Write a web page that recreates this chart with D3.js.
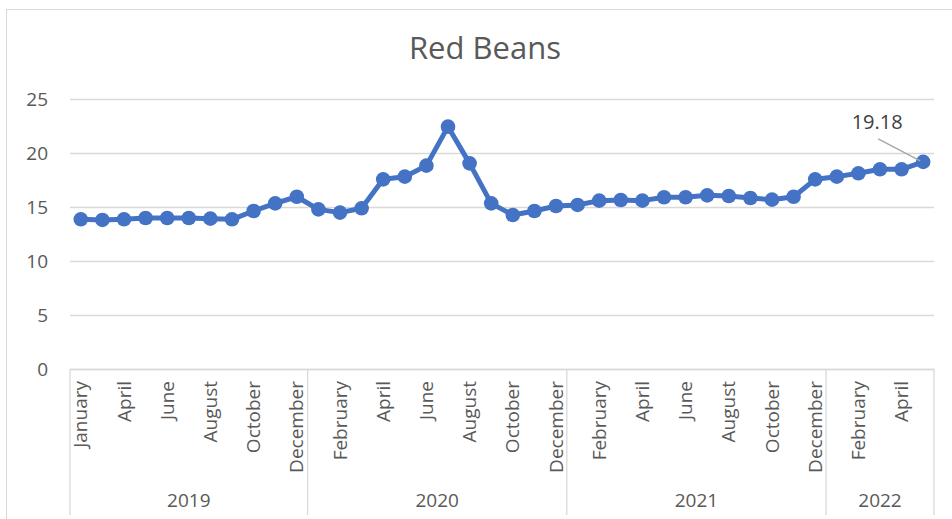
<!DOCTYPE html>
<html>
<head>
<meta charset="utf-8">
<script src="https://cdn.jsdelivr.net/npm/d3@7"></script>
<style>
  body { margin: 0; background: #fff; }
  text { font-family: "Open Sans", sans-serif; fill: #595959; }
</style>
</head>
<body>
<div id="chart"></div>
<script>
// categories: year groups and the months in each (2019 has one month missing)
const years = ['2019', '2020', '2021', '2022'];
const monthsByYear = [
  ['January', 'March', 'April', 'May', 'June', 'July', 'August', 'September', 'October', 'November', 'December'],
  ['January', 'February', 'March', 'April', 'May', 'June', 'July', 'August', 'September', 'October', 'November', 'December'],
  ['January', 'February', 'March', 'April', 'May', 'June', 'July', 'August', 'September', 'October', 'November', 'December'],
  ['January', 'February', 'March', 'April', 'May']
];
// red beans price series
const values = [
  13.86, 13.80, 13.86, 13.98, 13.98, 13.98, 13.92, 13.86, 14.63, 15.34, 15.95,
  14.78, 14.48, 14.88, 17.56, 17.81, 18.83, 22.44, 19.04, 15.34, 14.26, 14.63, 15.09,
  15.19, 15.59, 15.65, 15.59, 15.90, 15.90, 16.08, 16.02, 15.83, 15.68, 15.95, 17.56,
  17.81, 18.12, 18.49, 18.49, 19.18
];
const yTicks = [0, 5, 10, 15, 20, 25];
const title = 'Red Beans';

const width = 952, height = 519;
const plot = { left: 70, right: 934, top: 99, bottom: 369 };

// flatten into one row per point
const rows = [];
years.forEach((yr, i) => monthsByYear[i].forEach(m => rows.push({ year: yr, month: m, key: yr + '-' + m })));
rows.forEach((r, i) => r.value = values[i]);

const svg = d3.select('#chart').append('svg')
  .attr('width', width)
  .attr('height', height);

// chart area border
svg.append('rect')
  .attr('x', 6.5).attr('y', 9.5)
  .attr('width', 980).attr('height', 560)
  .attr('fill', 'none')
  .attr('stroke', '#D9D9D9');

const x = d3.scaleBand()
  .domain(rows.map(d => d.key))
  .range([plot.left, plot.right])
  .padding(0);

const y = d3.scaleLinear()
  .domain([0, 25])
  .range([plot.bottom, plot.top]);

// gridlines + y labels
const yAxis = svg.append('g')
  .attr('transform', `translate(${plot.left},0)`)
  .call(d3.axisLeft(y).tickValues(yTicks).tickSize(-(plot.right - plot.left)).tickPadding(22));
yAxis.select('.domain').remove();
yAxis.selectAll('.tick line').attr('stroke', '#D9D9D9').attr('stroke-width', 1.3);
yAxis.selectAll('.tick text').style('font-size', '19px').style('fill', '#595959');

// month labels (every other one, like Excel's auto skip)
const shown = rows.filter((d, i) => i % 2 === 0).map(d => d.key);
const xAxis = svg.append('g')
  .attr('transform', `translate(0,${plot.bottom})`)
  .call(d3.axisBottom(x).tickValues(shown).tickSize(0).tickFormat(k => k.split('-')[1]));
xAxis.select('.domain').attr('stroke', '#D9D9D9').attr('stroke-width', 1.3);
xAxis.selectAll('.tick text')
  .attr('transform', 'rotate(-90)')
  .attr('x', -12)
  .attr('y', 0)
  .attr('dy', '0.35em')
  .style('text-anchor', 'end')
  .style('font-size', '19px')
  .style('fill', '#595959');

// year groups: separators and labels
let start = 0;
const groups = years.map((yr, i) => {
  const n = monthsByYear[i].length;
  const g = { year: yr, x0: x(rows[start].key), x1: x(rows[start + n - 1].key) + x.bandwidth() };
  start += n;
  return g;
});
const sepX = [groups[0].x0].concat(groups.map(g => g.x1));
svg.selectAll('.sep')
  .data(sepX)
  .enter().append('line')
  .attr('class', 'sep')
  .attr('x1', d => d).attr('x2', d => d)
  .attr('y1', plot.bottom).attr('y2', 515)
  .attr('stroke', '#D9D9D9')
  .attr('stroke-width', 1.3);
svg.selectAll('.year')
  .data(groups)
  .enter().append('text')
  .attr('class', 'year')
  .attr('x', d => (d.x0 + d.x1) / 2)
  .attr('y', 507)
  .attr('text-anchor', 'middle')
  .style('font-size', '19px')
  .text(d => d.year);

// the series
const cx = d => x(d.key) + x.bandwidth() / 2;
const line = d3.line().x(cx).y(d => y(d.value));
svg.append('path')
  .datum(rows)
  .attr('fill', 'none')
  .attr('stroke', '#4472C4')
  .attr('stroke-width', 5)
  .attr('stroke-linejoin', 'round')
  .attr('d', line);
svg.selectAll('.dot')
  .data(rows)
  .enter().append('circle')
  .attr('class', 'dot')
  .attr('cx', cx)
  .attr('cy', d => y(d.value))
  .attr('r', 7.3)
  .attr('fill', '#4472C4');

// data label for the last point with leader line
const last = rows[rows.length - 1];
svg.append('line')
  .attr('x1', cx(last) - 45).attr('y1', y(last.value) - 23)
  .attr('x2', cx(last) - 3).attr('y2', y(last.value) - 1)
  .attr('stroke', '#A6A6A6')
  .attr('stroke-width', 1.3);
svg.append('text')
  .attr('x', cx(last) - 46)
  .attr('y', y(last.value) - 33)
  .attr('text-anchor', 'middle')
  .style('font-size', '20px')
  .style('fill', '#404040')
  .text(last.value.toFixed(2));

// title
svg.append('text')
  .attr('x', 485)
  .attr('y', 59)
  .attr('text-anchor', 'middle')
  .style('font-size', '31px')
  .text(title);
</script>
</body>
</html>
